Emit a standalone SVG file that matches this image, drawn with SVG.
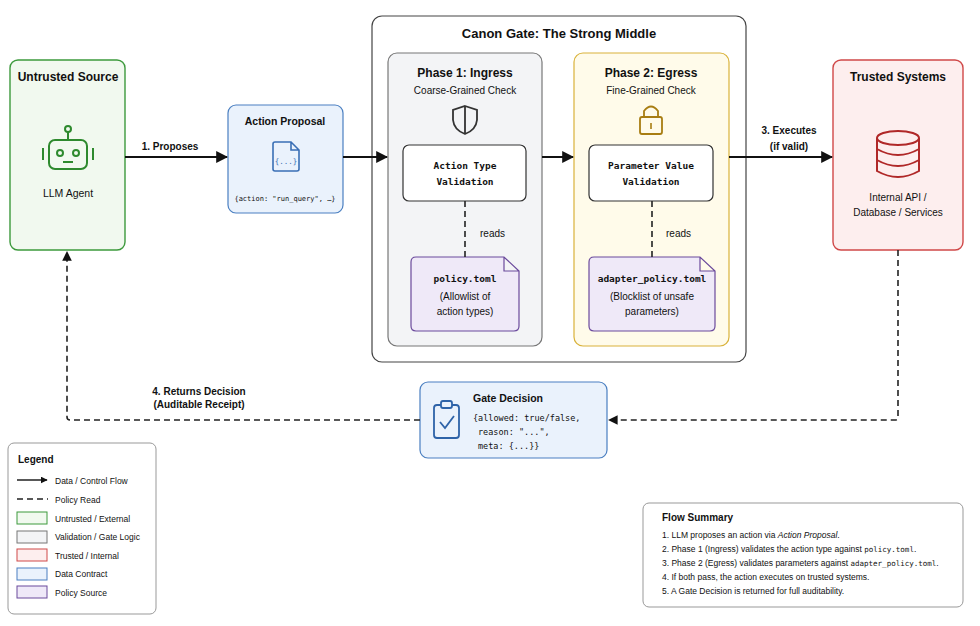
<svg xmlns="http://www.w3.org/2000/svg" width="980" height="626" viewBox="0 0 980 626">
<defs>
<marker id="ah" viewBox="0 0 10 10" refX="9" refY="5" markerWidth="6" markerHeight="6" orient="auto"><path d="M0,0 L10,5 L0,10 z" fill="#111"/></marker>
<marker id="ahs" viewBox="0 0 10 10" refX="9" refY="5" markerWidth="5" markerHeight="5" orient="auto"><path d="M0,0 L10,5 L0,10 z" fill="#111"/></marker>
<style>
text{font-family:"Liberation Sans",Arial,sans-serif;fill:#111}
.b{font-weight:bold}
.m{font-family:"DejaVu Sans Mono","Liberation Mono",monospace}
.flow{stroke:#111;stroke-width:2;fill:none}
.dash{stroke:#222;stroke-width:1.6;fill:none;stroke-dasharray:6 4}
</style>
</defs>
<rect width="980" height="626" fill="#fff"/>
<g id="gate">
<rect x="372" y="16" width="374" height="346" rx="10" fill="#fff" stroke="#444" stroke-width="1.2"/>
<text x="559" y="38" text-anchor="middle" class="b" font-size="13">Canon Gate: The Strong Middle</text>
</g>
<g id="phase1">
<rect x="388" y="53" width="154" height="293" rx="9" fill="#f3f4f6" stroke="#777" stroke-width="1.2"/>
<text x="465" y="77" text-anchor="middle" class="b" font-size="12">Phase 1: Ingress</text>
<text x="465" y="94" text-anchor="middle" font-size="10">Coarse-Grained Check</text>
<path d="M465,106 L477,110 L477,120 Q476,130 465,134 Q454,130 453,120 L453,110 Z M465,107 L465,133" fill="none" stroke="#333" stroke-width="1.8"/>
</g>
<g id="atv">
<rect x="403" y="145" width="123" height="56" rx="6" fill="#fff" stroke="#333" stroke-width="1.2"/>
<text x="465" y="169" text-anchor="middle" class="b m" font-size="9.5">Action Type</text>
<text x="465" y="185" text-anchor="middle" class="b m" font-size="9.5">Validation</text>
</g>
<g id="policy">
<path d="M416,257 L504,257 L519,271 L519,326 Q519,331 514,331 L416,331 Q411,331 411,326 L411,262 Q411,257 416,257 Z M504,257 L504,271 L519,271" fill="#efe9f8" stroke="#6b4a9c" stroke-width="1.2"/>
<text x="465" y="282" text-anchor="middle" class="b m" font-size="9.5">policy.toml</text>
<text x="465" y="300" text-anchor="middle" font-size="10">(Allowlist of</text>
<text x="465" y="315" text-anchor="middle" font-size="10">action types)</text>
</g>
<g id="phase2">
<rect x="574" y="53" width="155" height="293" rx="9" fill="#fffbea" stroke="#d9b23a" stroke-width="1.2"/>
<text x="651" y="77" text-anchor="middle" class="b" font-size="12">Phase 2: Egress</text>
<text x="651" y="94" text-anchor="middle" font-size="10">Fine-Grained Check</text>
<rect x="640" y="117" width="22" height="17" rx="2" fill="none" stroke="#a87d12" stroke-width="1.8"/>
<path d="M644,117 L644,111 Q651,102 658,111 L658,117" fill="none" stroke="#a87d12" stroke-width="1.8"/>
<path d="M651,123 L651,129" stroke="#a87d12" stroke-width="1.6"/>
</g>
<g id="pvv">
<rect x="589" y="145" width="124" height="56" rx="6" fill="#fff" stroke="#333" stroke-width="1.2"/>
<text x="651" y="169" text-anchor="middle" class="b m" font-size="9.5">Parameter Value</text>
<text x="651" y="185" text-anchor="middle" class="b m" font-size="9.5">Validation</text>
</g>
<g id="adapter">
<path d="M594,257 L700,257 L715,271 L715,326 Q715,331 710,331 L594,331 Q589,331 589,326 L589,262 Q589,257 594,257 Z M700,257 L700,271 L715,271" fill="#efe9f8" stroke="#6b4a9c" stroke-width="1.2"/>
<text x="652" y="282" text-anchor="middle" class="b m" font-size="9.5">adapter_policy.toml</text>
<text x="652" y="300" text-anchor="middle" font-size="10">(Blocklist of unsafe</text>
<text x="652" y="315" text-anchor="middle" font-size="10">parameters)</text>
</g>
<g id="untrusted">
<rect x="10" y="60" width="115" height="190" rx="8" fill="#f1f9ef" stroke="#3d9a3d" stroke-width="1.4"/>
<text x="68" y="81" text-anchor="middle" class="b" font-size="12">Untrusted Source</text>
<g fill="none" stroke="#2e8a2e" stroke-width="2">
<circle cx="68" cy="129" r="3"/><path d="M68,132 L68,140"/>
<rect x="49" y="140" width="38" height="29" rx="6"/>
<circle cx="60" cy="153" r="3"/><circle cx="76" cy="153" r="3"/><path d="M63,162 L73,162"/>
<path d="M43,148 L43,160 M93,148 L93,160"/>
</g>
<text x="68" y="197" text-anchor="middle" font-size="10.5">LLM Agent</text>
</g>
<g id="proposal">
<rect x="228" y="105" width="115" height="108" rx="8" fill="#eaf2fc" stroke="#4a7fc1" stroke-width="1.2"/>
<text x="285" y="125" text-anchor="middle" class="b" font-size="10.5">Action Proposal</text>
<path d="M275,142 L291,142 L299,150 L299,169 Q299,171 297,171 L275,171 Q273,171 273,169 L273,144 Q273,142 275,142 Z M291,142 L291,150 L299,150" fill="none" stroke="#3a6fb5" stroke-width="1.6"/>
<text x="286" y="164" text-anchor="middle" class="m" font-size="7.5" style="fill:#3a6fb5">{...}</text>
<text x="285" y="201" text-anchor="middle" class="m" font-size="7">{action: "run_query", …}</text>
</g>
<g id="trusted">
<rect x="833" y="60" width="130" height="190" rx="8" fill="#fdeeee" stroke="#d04848" stroke-width="1.4"/>
<text x="898" y="81" text-anchor="middle" class="b" font-size="12">Trusted Systems</text>
<g fill="none" stroke="#b02828" stroke-width="2">
<ellipse cx="898" cy="138" rx="21" ry="7"/>
<path d="M877,138 L877,171 Q898,183 919,171 L919,138 M877,149 Q898,161 919,149 M877,160 Q898,172 919,160"/>
</g>
<text x="898" y="201" text-anchor="middle" font-size="10">Internal API /</text>
<text x="898" y="216" text-anchor="middle" font-size="10">Database / Services</text>
</g>
<g id="decision">
<rect x="420" y="382" width="187" height="76" rx="8" fill="#eaf2fc" stroke="#4a7fc1" stroke-width="1.2"/>
<g fill="none" stroke="#2e63a8" stroke-width="1.8">
<rect x="434" y="405" width="25" height="33" rx="3"/>
<rect x="441" y="401" width="11" height="7" rx="2" fill="#eaf2fc"/>
<path d="M440,422 L445,428 L454,416"/>
</g>
<text x="473" y="402" class="b" font-size="10.5">Gate Decision</text>
<text x="473" y="421" class="m" font-size="8.5">{allowed: true/false,</text>
<text x="478" y="435" class="m" font-size="8.5">reason: "...",</text>
<text x="478" y="449" class="m" font-size="8.5">meta: {...}}</text>
</g>
<g id="connectors">
<path class="flow" d="M125,157 L227,157" marker-end="url(#ah)"/>
<path class="flow" d="M343,157 L387,157" marker-end="url(#ah)"/>
<path class="flow" d="M542,157 L573,157" marker-end="url(#ah)"/>
<path class="flow" d="M729,157 L832,157" marker-end="url(#ah)"/>
<path class="dash" d="M465,201 L465,257"/>
<path class="dash" d="M652,201 L652,257"/>
<path class="dash" d="M898,250 L898,417 Q898,420 895,420 L609,420" marker-end="url(#ah)"/>
<path class="dash" d="M420,420 L70,420 Q67,420 67,417 L67,252" marker-end="url(#ah)"/>
<text x="170" y="150" text-anchor="middle" class="b" font-size="10">1. Proposes</text>
<text x="789" y="134" text-anchor="middle" class="b" font-size="10">3. Executes</text>
<text x="789" y="150" text-anchor="middle" class="b" font-size="10">(if valid)</text>
<text x="199" y="395" text-anchor="middle" class="b" font-size="10">4. Returns Decision</text>
<text x="199" y="408" text-anchor="middle" class="b" font-size="10">(Auditable Receipt)</text>
<text x="480" y="237" font-size="10">reads</text>
<text x="666" y="237" font-size="10">reads</text>
</g>
<g id="legend">
<rect x="8" y="443" width="148" height="171" rx="6" fill="#fff" stroke="#999" stroke-width="1"/>
<text x="18" y="463" class="b" font-size="10">Legend</text>
<path d="M17,480 L47,480" stroke="#111" stroke-width="1.4" marker-end="url(#ahs)"/>
<text x="55" y="484" font-size="8.5">Data / Control Flow</text>
<path d="M17,499 L48,499" stroke="#222" stroke-width="1.5" stroke-dasharray="6 4"/>
<text x="55" y="503" font-size="8.5">Policy Read</text>
<rect x="17" y="512" width="30" height="12" fill="#f1f9ef" stroke="#3d9a3d"/>
<text x="55" y="522" font-size="8.5">Untrusted / External</text>
<rect x="17" y="531" width="30" height="12" fill="#f3f4f6" stroke="#777"/>
<text x="55" y="540" font-size="8.5">Validation / Gate Logic</text>
<rect x="17" y="549" width="30" height="12" fill="#fdeeee" stroke="#d04848"/>
<text x="55" y="559" font-size="8.5">Trusted / Internal</text>
<rect x="17" y="568" width="30" height="12" fill="#eaf2fc" stroke="#4a7fc1"/>
<text x="55" y="577" font-size="8.5">Data Contract</text>
<rect x="17" y="586" width="30" height="12" fill="#efe9f8" stroke="#6b4a9c"/>
<text x="55" y="596" font-size="8.5">Policy Source</text>
</g>
<g id="summary">
<rect x="643" y="503" width="320" height="104" rx="6" fill="#fff" stroke="#999" stroke-width="1"/>
<text x="662" y="521" class="b" font-size="10">Flow Summary</text>
<text x="662" y="538" font-size="8.5">1.  LLM proposes an action via <tspan font-style="italic">Action Proposal</tspan>.</text>
<text x="662" y="552" font-size="8.5">2.  Phase 1 (Ingress) validates the action type against <tspan class="m" font-size="7.5">policy.toml</tspan>.</text>
<text x="662" y="566" font-size="8.5">3.  Phase 2 (Egress) validates parameters against <tspan class="m" font-size="7.5">adapter_policy.toml</tspan>.</text>
<text x="662" y="580" font-size="8.5">4.  If both pass, the action executes on trusted systems.</text>
<text x="662" y="594" font-size="8.5">5.  A Gate Decision is returned for full auditability.</text>
</g>
</svg>
